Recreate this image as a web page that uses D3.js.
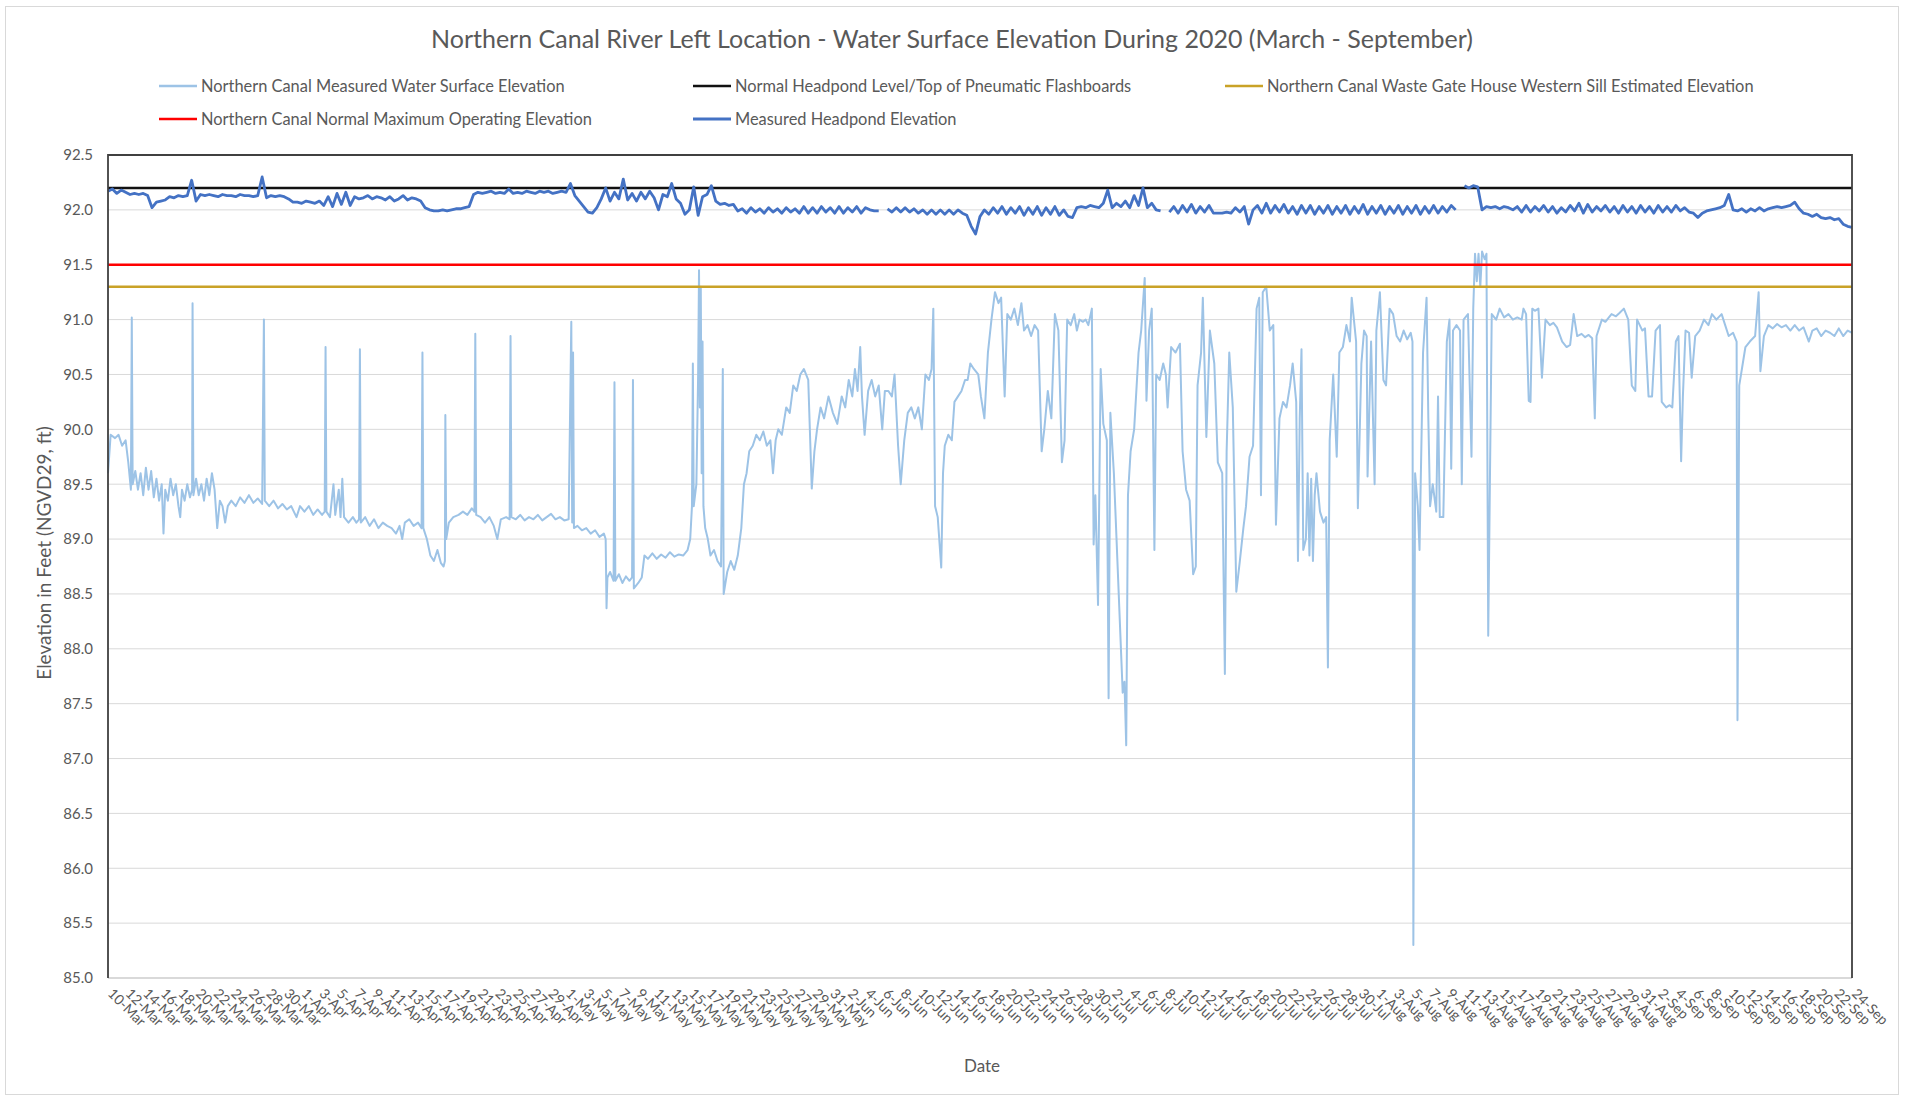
<!DOCTYPE html>
<html>
<head>
<meta charset="utf-8">
<script src="https://cdn.jsdelivr.net/npm/d3@7"></script>
<style>
  body { margin: 0; background: #ffffff; }
  text { font-family: Lato, "Open Sans", "DejaVu Sans", sans-serif; fill: #595959; }
</style>
</head>
<body>
<svg id="chart" width="1905" height="1098"></svg>
<script>
// ---- data -------------------------------------------------------------
const chartTitle = "Northern Canal River Left Location - Water Surface Elevation During 2020 (March - September)";
const xAxisTitle = "Date";
const yAxisTitle = "Elevation in Feet (NGVD29, ft)";

const startDate = new Date(Date.UTC(2020, 2, 10));   // 10-Mar
const endDate = new Date(Date.UTC(2020, 8, 24));     // 24-Sep
const tickStepDays = 2;
const yTicks = [85.0, 85.5, 86.0, 86.5, 87.0, 87.5, 88.0, 88.5, 89.0, 89.5, 90.0, 90.5, 91.0, 91.5, 92.0, 92.5];

const seriesNames = [
  "Northern Canal Measured Water Surface Elevation",
  "Normal Headpond Level/Top of Pneumatic Flashboards",
  "Northern Canal Waste Gate House Western Sill Estimated Elevation",
  "Northern Canal Normal Maximum Operating Elevation",
  "Measured Headpond Elevation"
];
const seriesColors = ["#9dc3e6", "#111111", "#c9a227", "#ff0000", "#4472c4"];
const seriesWidths = [2, 2.5, 2.5, 2.5, 2.8];

// constant reference elevations (ft)
const normalHeadpondLevel = 92.2;
const wasteGateSillElevation = 91.3;
const normalMaxOperating = 91.5;

// Measured headpond elevation, one reading every half day from 10-Mar (null = no data)
const headpondStepDays = 0.5;
const headpondValues = [
  92.17, 92.19, 92.15, 92.18, 92.16, 92.14, 92.15, 92.14, 92.15, 92.13, 92.02, 92.07, 92.08, 92.09, 92.12, 92.11, 92.13, 92.12, 92.13, 92.27,
  92.08, 92.14, 92.13, 92.14, 92.13, 92.12, 92.14, 92.13, 92.13, 92.12, 92.14, 92.13, 92.13, 92.12, 92.13, 92.30, 92.11, 92.13, 92.12, 92.13,
  92.12, 92.10, 92.07, 92.07, 92.06, 92.08, 92.07, 92.06, 92.08, 92.04, 92.12, 92.03, 92.15, 92.05, 92.16, 92.04, 92.12, 92.10, 92.11, 92.13,
  92.10, 92.12, 92.11, 92.09, 92.12, 92.08, 92.10, 92.13, 92.09, 92.11, 92.10, 92.08, 92.02, 92.00, 91.99, 91.99, 92.00, 91.99, 92.00, 92.01,
  92.01, 92.02, 92.03, 92.14, 92.16, 92.15, 92.16, 92.17, 92.15, 92.16, 92.15, 92.19, 92.15, 92.16, 92.15, 92.17, 92.16, 92.15, 92.17, 92.16,
  92.17, 92.15, 92.16, 92.17, 92.16, 92.24, 92.13, 92.08, 92.03, 91.98, 91.97, 92.02, 92.10, 92.20, 92.08, 92.16, 92.10, 92.28, 92.09, 92.15,
  92.08, 92.16, 92.10, 92.17, 92.11, 92.00, 92.14, 92.12, 92.24, 92.10, 92.06, 91.96, 92.00, 92.21, 91.95, 92.12, 92.14, 92.22, 92.08, 92.05,
  92.06, 92.04, 92.05, 91.99, 92.01, 91.97, 92.02, 91.98, 92.01, 91.97, 92.02, 91.98, 92.01, 91.97, 92.02, 91.98, 92.01, 91.97, 92.03, 91.97,
  92.02, 91.97, 92.03, 91.98, 92.02, 91.97, 92.03, 91.97, 92.02, 91.98, 92.03, 91.97, 92.02, 92.00, 91.99, 91.99, null, 92.01, 91.98, 92.02,
  91.98, 92.02, 91.98, 92.01, 91.97, 92.00, 91.96, 92.00, 91.96, 92.00, 91.96, 92.00, 91.96, 92.00, 91.97, 91.95, 91.85, 91.78, 91.94, 92.00,
  91.96, 92.02, 91.97, 92.03, 91.96, 92.02, 91.97, 92.03, 91.95, 92.02, 91.96, 92.03, 91.95, 92.02, 91.96, 92.03, 91.95, 92.00, 91.94, 91.93,
  92.02, 92.03, 92.02, 92.04, 92.03, 92.02, 92.06, 92.18, 92.02, 92.06, 92.03, 92.08, 92.02, 92.13, 92.04, 92.20, 92.02, 92.06, 92.00, 91.99,
  null, 91.98, 92.03, 91.97, 92.04, 91.98, 92.05, 91.97, 92.03, 91.98, 92.04, 91.97, 91.97, 91.97, 91.98, 91.97, 92.02, 91.98, 92.03, 91.87,
  92.00, 92.04, 91.97, 92.06, 91.97, 92.04, 91.98, 92.05, 91.97, 92.03, 91.96, 92.04, 91.97, 92.04, 91.96, 92.03, 91.97, 92.04, 91.96, 92.03,
  91.97, 92.04, 91.96, 92.03, 91.97, 92.05, 91.96, 92.03, 91.97, 92.04, 91.96, 92.03, 91.97, 92.04, 91.96, 92.03, 91.97, 92.04, 91.96, 92.03,
  91.97, 92.04, 91.97, 92.03, 91.98, 92.04, 92.00, null, 92.22, 92.20, 92.22, 92.21, 92.00, 92.03, 92.02, 92.03, 92.01, 92.03, 92.02, 92.00,
  92.03, 91.98, 92.04, 91.98, 92.03, 91.99, 92.04, 91.98, 92.03, 91.97, 92.02, 91.98, 92.04, 91.99, 92.06, 91.97, 92.05, 91.98, 92.03, 91.99,
  92.04, 91.98, 92.03, 91.97, 92.04, 91.98, 92.03, 91.97, 92.04, 91.98, 92.03, 91.97, 92.04, 91.98, 92.03, 91.98, 92.04, 91.99, 92.02, 91.98,
  91.97, 91.93, 91.97, 91.99, 92.00, 92.01, 92.02, 92.04, 92.14, 92.00, 91.99, 92.01, 91.98, 92.01, 91.99, 92.02, 91.99, 92.01, 92.02, 92.03,
  92.02, 92.03, 92.04, 92.07, 92.01, 91.97, 91.96, 91.94, 91.96, 91.93, 91.92, 91.93, 91.91, 91.92, 91.87, 91.85, 91.84
];

// Northern Canal measured water surface elevation: [days after 10-Mar, elevation ft]
const canalReadings = [
  [0, 89.6], [0.3, 89.95], [0.8, 89.92], [1.2, 89.95], [1.6, 89.85], [2.0, 89.9], [2.3, 89.7], [2.6, 89.45],
  [2.7, 91.02], [2.8, 89.5],
  [3.1, 89.62], [3.4, 89.45], [3.7, 89.6], [4.0, 89.4], [4.3, 89.65], [4.6, 89.45], [4.9, 89.62], [5.2, 89.38],
  [5.5, 89.55], [5.8, 89.35], [6.1, 89.5], [6.3, 89.05], [6.5, 89.45], [6.8, 89.35], [7.1, 89.55], [7.4, 89.4],
  [7.7, 89.5], [8.0, 89.3], [8.2, 89.2], [8.4, 89.45], [8.7, 89.35], [9.0, 89.5], [9.3, 89.38], [9.55, 89.45],
  [9.6, 91.15], [9.7, 89.4],
  [10.0, 89.55], [10.3, 89.4], [10.6, 89.5], [10.9, 89.35], [11.2, 89.55], [11.5, 89.4], [11.8, 89.6], [12.1, 89.45],
  [12.4, 89.1], [12.7, 89.35], [13.0, 89.3], [13.3, 89.15], [13.6, 89.3], [14.0, 89.35], [14.5, 89.3], [15.0, 89.38],
  [15.5, 89.33], [16.0, 89.4], [16.5, 89.33], [17.0, 89.37], [17.5, 89.32],
  [17.7, 91.0], [17.8, 89.35],
  [18.3, 89.3], [18.8, 89.35], [19.3, 89.28], [19.8, 89.32], [20.3, 89.27], [20.8, 89.3], [21.4, 89.2], [21.8, 89.3],
  [22.3, 89.25], [22.8, 89.3], [23.3, 89.22], [23.8, 89.27], [24.3, 89.22], [24.6, 89.25],
  [24.7, 90.75], [24.8, 89.25],
  [25.2, 89.2], [25.6, 89.5], [25.8, 89.22], [26.2, 89.45], [26.4, 89.2], [26.6, 89.55], [26.8, 89.2], [27.3, 89.15],
  [27.8, 89.2], [28.2, 89.15], [28.5, 89.18],
  [28.6, 90.73], [28.7, 89.15],
  [29.2, 89.2], [29.7, 89.12], [30.2, 89.18], [30.7, 89.1], [31.2, 89.15], [31.7, 89.12], [32.2, 89.1], [32.7, 89.05],
  [33.1, 89.12], [33.4, 89.0], [33.7, 89.15], [34.2, 89.18], [34.7, 89.12], [35.2, 89.15], [35.6, 89.1],
  [35.7, 90.7], [35.8, 89.1],
  [36.2, 89.0], [36.6, 88.85], [37.0, 88.8], [37.4, 88.9], [37.8, 88.78], [38.1, 88.75], [38.25, 88.8],
  [38.3, 90.13], [38.4, 89.0],
  [38.7, 89.15], [39.2, 89.2], [39.8, 89.22], [40.3, 89.25], [40.8, 89.22], [41.3, 89.28], [41.6, 89.25],
  [41.7, 90.87], [41.8, 89.22],
  [42.3, 89.2], [42.8, 89.15], [43.3, 89.2], [43.8, 89.12], [44.2, 89.0], [44.6, 89.18], [45.2, 89.2], [45.6, 89.18],
  [45.7, 90.85], [45.8, 89.2],
  [46.3, 89.18], [46.8, 89.22], [47.3, 89.17], [47.8, 89.2], [48.3, 89.18], [48.8, 89.22], [49.3, 89.17], [49.8, 89.2],
  [50.3, 89.23], [50.8, 89.18], [51.3, 89.2], [51.8, 89.17], [52.3, 89.18],
  [52.6, 90.98], [52.7, 89.15], [52.8, 90.7], [52.9, 89.1],
  [53.3, 89.12], [53.8, 89.08], [54.3, 89.1], [54.8, 89.05], [55.3, 89.08], [55.8, 89.02], [56.3, 89.05], [56.5, 89.0],
  [56.6, 88.37], [56.7, 88.65], [57.0, 88.7], [57.4, 88.62],
  [57.5, 90.43], [57.6, 88.62],
  [58.0, 88.68], [58.4, 88.6], [58.8, 88.66], [59.2, 88.62], [59.5, 88.65],
  [59.6, 90.45], [59.7, 88.55],
  [60.2, 88.6], [60.6, 88.65], [60.9, 88.85], [61.3, 88.82], [61.8, 88.87], [62.3, 88.82], [62.8, 88.86], [63.3, 88.83],
  [63.8, 88.88], [64.3, 88.84], [64.8, 88.86], [65.3, 88.85], [65.8, 88.9], [66.1, 89.0], [66.3, 89.3],
  [66.4, 90.6], [66.5, 89.3],
  [66.8, 89.5], [67.0, 90.5], [67.1, 91.45], [67.2, 90.2], [67.3, 91.3], [67.4, 89.6], [67.5, 90.8], [67.6, 89.3],
  [67.8, 89.1], [68.1, 89.0], [68.4, 88.85], [68.8, 88.9], [69.2, 88.8], [69.6, 88.75],
  [69.8, 90.55], [69.9, 88.5],
  [70.3, 88.7], [70.7, 88.8], [71.1, 88.72], [71.5, 88.85], [71.9, 89.1], [72.2, 89.5], [72.5, 89.6], [72.8, 89.8],
  [73.2, 89.85], [73.6, 89.95], [74.0, 89.9], [74.4, 89.98], [74.8, 89.85], [75.2, 89.9], [75.5, 89.6], [75.8, 89.9],
  [76.1, 90.0], [76.5, 89.95], [77.0, 90.2], [77.4, 90.15], [77.8, 90.4], [78.2, 90.35], [78.6, 90.5], [79.0, 90.55],
  [79.5, 90.45], [79.9, 89.46], [80.2, 89.8], [80.5, 90.0], [80.9, 90.2], [81.3, 90.1], [81.8, 90.3], [82.3, 90.15],
  [82.8, 90.05], [83.3, 90.3], [83.7, 90.2], [84.1, 90.45], [84.5, 90.3], [84.8, 90.55], [85.1, 90.35], [85.4, 90.75],
  [85.6, 90.3], [85.9, 89.95], [86.3, 90.35], [86.7, 90.45], [87.1, 90.3], [87.5, 90.4], [87.9, 90.0], [88.2, 90.35],
  [88.6, 90.35], [89.0, 90.3], [89.3, 90.5], [89.7, 89.85], [90.0, 89.5], [90.4, 89.9], [90.8, 90.15], [91.2, 90.2],
  [91.6, 90.1], [92.0, 90.2], [92.4, 90.0], [92.8, 90.5], [93.2, 90.45], [93.5, 90.55], [93.7, 91.1], [93.9, 89.3],
  [94.2, 89.2], [94.6, 88.74], [94.8, 89.6], [95.0, 89.85], [95.4, 89.95], [95.8, 89.9], [96.1, 90.25], [96.5, 90.3],
  [96.9, 90.35], [97.3, 90.45], [97.6, 90.45], [97.9, 90.6], [98.3, 90.55], [98.8, 90.5], [99.1, 90.3], [99.5, 90.1],
  [99.9, 90.7], [100.3, 91.0], [100.7, 91.25], [101.1, 91.15], [101.4, 91.2], [101.8, 90.3], [102.1, 91.05], [102.5, 91.0],
  [102.9, 91.1], [103.3, 90.95], [103.7, 91.15], [104.0, 90.9], [104.4, 90.95], [104.8, 90.85], [105.2, 90.95], [105.6, 90.9],
  [106.0, 89.8], [106.3, 90.0], [106.7, 90.35], [107.1, 90.1], [107.5, 91.05], [107.9, 90.9], [108.3, 89.7], [108.6, 89.9],
  [108.9, 91.0], [109.3, 90.95], [109.7, 91.05], [110.0, 90.9], [110.3, 91.0], [110.7, 90.98], [111.0, 91.0], [111.3, 90.95],
  [111.7, 91.1], [111.9, 88.95], [112.1, 89.4], [112.4, 88.4], [112.7, 90.55], [113.0, 90.05], [113.4, 89.9], [113.6, 87.55],
  [113.8, 90.15], [114.2, 89.6], [114.6, 88.8], [114.9, 88.2], [115.2, 87.6], [115.4, 87.7], [115.6, 87.12], [115.8, 89.4],
  [116.1, 89.8], [116.5, 90.0], [117.0, 90.7], [117.3, 90.9], [117.7, 91.38], [117.9, 90.26], [118.2, 90.9], [118.5, 91.1],
  [118.8, 88.9], [119.0, 90.5],
  [119.4, 90.45], [119.8, 90.6], [120.1, 90.5], [120.3, 90.2], [120.7, 90.75], [121.2, 90.7], [121.7, 90.78], [122.0, 89.8],
  [122.4, 89.45], [122.8, 89.35], [123.2, 88.68], [123.5, 88.75], [123.7, 90.4], [124.1, 90.7], [124.3, 91.2], [124.7, 89.93],
  [125.1, 90.9], [125.6, 90.6], [126.0, 89.7], [126.5, 89.6], [126.8, 87.77], [127.0, 89.8], [127.3, 90.7], [127.7, 90.2],
  [128.1, 88.52], [128.5, 88.8], [128.9, 89.1], [129.2, 89.3], [129.6, 89.75], [130.0, 89.85], [130.4, 91.1], [130.7, 91.2],
  [130.9, 89.4], [131.1, 91.25], [131.5, 91.3], [131.9, 90.9], [132.3, 90.95], [132.6, 89.13], [133.0, 90.1], [133.4, 90.25],
  [133.8, 90.2], [134.2, 90.4], [134.5, 90.6], [134.9, 90.25], [135.1, 88.8], [135.3, 90.1], [135.5, 90.73], [135.7, 88.9],
  [136.0, 89.0], [136.2, 89.6], [136.4, 88.85], [136.6, 89.55], [136.8, 88.8], [137.0, 89.4], [137.2, 89.6], [137.6, 89.25],
  [138.0, 89.15], [138.3, 89.2], [138.5, 87.83], [138.7, 89.9], [139.1, 90.5], [139.5, 89.75], [139.8, 90.7], [140.2, 90.75],
  [140.6, 90.95], [141.0, 90.8], [141.2, 91.2], [141.7, 90.8], [141.9, 89.28], [142.3, 90.6], [142.6, 90.9], [142.9, 90.85],
  [143.0, 89.57], [143.4, 90.8], [143.8, 89.5], [144.0, 90.9], [144.4, 91.25], [144.8, 90.45], [145.1, 90.4], [145.5, 91.1],
  [145.9, 91.05], [146.3, 90.85], [146.7, 90.8], [147.1, 90.9], [147.5, 90.82], [147.9, 90.88], [148.1, 90.8], [148.2, 85.3],
  [148.4, 89.6], [148.7, 89.3], [148.9, 88.9], [149.3, 90.7], [149.7, 91.2], [149.9, 90.1], [150.1, 89.3], [150.4, 89.5],
  [150.8, 89.25], [151.0, 90.3], [151.2, 89.2], [151.6, 89.2], [152.0, 90.8], [152.3, 91.0], [152.5, 89.64], [152.7, 90.9],
  [153.1, 90.95], [153.5, 90.9], [153.7, 89.5], [153.9, 91.0], [154.4, 91.05], [154.8, 89.75], [155.0, 91.1], [155.2, 91.6],
  [155.4, 91.35], [155.6, 91.6], [155.8, 91.3], [156.0, 91.62], [156.3, 91.55], [156.5, 91.6], [156.7, 88.12], [157.1, 91.05],
  [157.6, 91.0], [158.0, 91.1], [158.5, 91.02], [159.0, 91.05],
  [159.5, 91.0], [160.0, 91.02], [160.5, 91.0], [160.7, 91.1], [161.0, 91.05], [161.3, 90.26], [161.5, 90.25], [161.7, 91.1],
  [162.0, 91.08], [162.4, 91.1], [162.8, 90.47], [163.2, 91.0], [163.7, 90.95], [164.1, 90.97], [164.5, 90.93], [165.1, 90.8],
  [165.6, 90.75], [166.0, 90.77], [166.4, 91.05], [166.8, 90.85], [167.3, 90.87], [167.7, 90.84], [168.1, 90.86], [168.5, 90.83],
  [168.8, 90.1], [169.0, 90.85], [169.6, 91.0], [170.0, 90.98], [170.4, 91.02], [170.7, 91.05], [171.2, 91.03], [171.6, 91.06],
  [172.1, 91.1], [172.6, 91.0], [173.0, 90.4], [173.4, 90.35], [173.6, 91.0], [174.2, 90.9], [174.5, 90.92], [174.9, 90.3],
  [175.3, 90.3], [175.7, 90.9], [176.2, 90.95], [176.4, 90.25], [176.9, 90.2], [177.3, 90.22], [177.6, 90.2], [178.0, 90.8],
  [178.3, 90.85], [178.6, 89.71], [178.8, 90.3], [179.1, 90.9], [179.5, 90.88], [179.8, 90.47], [180.2, 90.85], [180.7, 90.9],
  [181.2, 91.0], [181.7, 90.95], [182.1, 91.05], [182.6, 91.0], [183.2, 91.05], [183.6, 90.95], [184.0, 90.85], [184.5, 90.88],
  [184.9, 90.8], [185.0, 87.35], [185.2, 90.4], [185.5, 90.55], [185.9, 90.75], [186.4, 90.8], [187.0, 90.85], [187.4, 91.25],
  [187.6, 90.53], [188.0, 90.85], [188.5, 90.95], [189.0, 90.92], [189.5, 90.96], [190.0, 90.93], [190.5, 90.95], [191.0, 90.9],
  [191.5, 90.95], [192.0, 90.9], [192.5, 90.93], [193.1, 90.8], [193.5, 90.9], [194.0, 90.92], [194.5, 90.85], [195.0, 90.9],
  [195.5, 90.88], [196.0, 90.85], [196.5, 90.92], [197.0, 90.85], [197.5, 90.9], [198.0, 90.88]
];

// ---- layout -----------------------------------------------------------
const plot = { left: 108, right: 1852, top: 155, bottom: 978 };
const svg = d3.select("#chart");

const dayToDate = d => new Date(startDate.getTime() + d * 864e5);
const x = d3.scaleUtc().domain([startDate, endDate]).range([plot.left, plot.right]);
const y = d3.scaleLinear().domain([85, 92.5]).range([plot.bottom, plot.top]);

// outer chart frame
svg.append("rect")
  .attr("x", 5.5).attr("y", 6.5).attr("width", 1893).attr("height", 1088)
  .attr("fill", "#ffffff").attr("stroke", "#d9d9d9").attr("stroke-width", 1);

// title
svg.append("text")
  .attr("x", 952).attr("y", 39).attr("dy", "0.35em")
  .attr("text-anchor", "middle")
  .style("font-size", "25px")
  .text(chartTitle);

// horizontal gridlines
svg.append("g").selectAll("line")
  .data(yTicks.filter(v => v > 85 && v < 92.5))
  .join("line")
  .attr("x1", plot.left).attr("x2", plot.right)
  .attr("y1", d => y(d)).attr("y2", d => y(d))
  .attr("stroke", "#d9d9d9").attr("stroke-width", 1);

// y axis labels
const yAxis = d3.axisLeft(y).tickValues(yTicks).tickFormat(d3.format(".1f")).tickSize(0).tickPadding(15);
const gy = svg.append("g").attr("transform", `translate(${plot.left},0)`).call(yAxis);
gy.select(".domain").remove();
gy.selectAll("text").style("font-size", "15px").attr("fill", "#595959");

// x axis labels every two days
const tickDates = d3.range(0, 199, tickStepDays).map(d => d3.utcDay.offset(startDate, d));
const xAxis = d3.axisBottom(x).tickValues(tickDates).tickFormat(d3.utcFormat("%-d-%b")).tickSize(0);
const gx = svg.append("g").attr("transform", `translate(0,${plot.bottom})`).call(xAxis);
gx.select(".domain").remove();
gx.selectAll("text")
  .attr("y", 0)
  .attr("text-anchor", "start")
  .attr("transform", "translate(2,13) rotate(45)")
  .attr("dy", "0.35em")
  .style("font-size", "14px")
  .attr("fill", "#595959");

// axis titles
svg.append("text")
  .attr("x", 982).attr("y", 1066).attr("dy", "0.35em")
  .attr("text-anchor", "middle").style("font-size", "17px")
  .text(xAxisTitle);
svg.append("text")
  .attr("transform", "translate(44,553) rotate(-90)")
  .attr("dy", "0.35em")
  .attr("text-anchor", "middle").style("font-size", "19px")
  .text(yAxisTitle);

// series
const lineGen = d3.line()
  .defined(d => d[1] !== null)
  .x(d => x(dayToDate(d[0])))
  .y(d => y(d[1]));

const dataLayer = svg.append("g");

dataLayer.append("path")
  .datum(canalReadings)
  .attr("fill", "none")
  .attr("stroke", seriesColors[0]).attr("stroke-width", seriesWidths[0])
  .attr("stroke-linejoin", "round")
  .attr("d", lineGen);

const constantSeries = [
  { value: normalHeadpondLevel, idx: 1 },
  { value: wasteGateSillElevation, idx: 2 },
  { value: normalMaxOperating, idx: 3 }
];
constantSeries.forEach(s => {
  dataLayer.append("path")
    .datum([[0, s.value], [198, s.value]])
    .attr("fill", "none")
    .attr("stroke", seriesColors[s.idx]).attr("stroke-width", seriesWidths[s.idx])
    .attr("d", lineGen);
});

const headpondSeries = headpondValues.map((v, i) => [i * headpondStepDays, v]);
dataLayer.append("path")
  .datum(headpondSeries)
  .attr("fill", "none")
  .attr("stroke", seriesColors[4]).attr("stroke-width", seriesWidths[4])
  .attr("stroke-linejoin", "round")
  .attr("d", lineGen);

// plot frame: dark on left/top/right, light axis line at the bottom
svg.append("line")
  .attr("x1", plot.left).attr("x2", plot.right)
  .attr("y1", plot.bottom).attr("y2", plot.bottom)
  .attr("stroke", "#d9d9d9").attr("stroke-width", 2);
svg.append("path")
  .attr("d", `M${plot.left},${plot.bottom}V${plot.top}H${plot.right}V${plot.bottom}`)
  .attr("fill", "none").attr("stroke", "#404040").attr("stroke-width", 1.8);

// legend
const legendItems = [
  { idx: 0, x: 159, y: 86 },
  { idx: 1, x: 693, y: 86 },
  { idx: 2, x: 1225, y: 86 },
  { idx: 3, x: 159, y: 119 },
  { idx: 4, x: 693, y: 119 }
];
const legend = svg.append("g");
legendItems.forEach(it => {
  const g = legend.append("g").attr("transform", `translate(${it.x},${it.y})`);
  g.append("line")
    .attr("x1", 0).attr("x2", 38).attr("y1", 0).attr("y2", 0)
    .attr("stroke", seriesColors[it.idx]).attr("stroke-width", Math.max(2.5, seriesWidths[it.idx]));
  g.append("text")
    .attr("x", 42).attr("y", 0).attr("dy", "0.35em")
    .style("font-size", "16.4px")
    .text(seriesNames[it.idx]);
});
</script>
</body>
</html>
